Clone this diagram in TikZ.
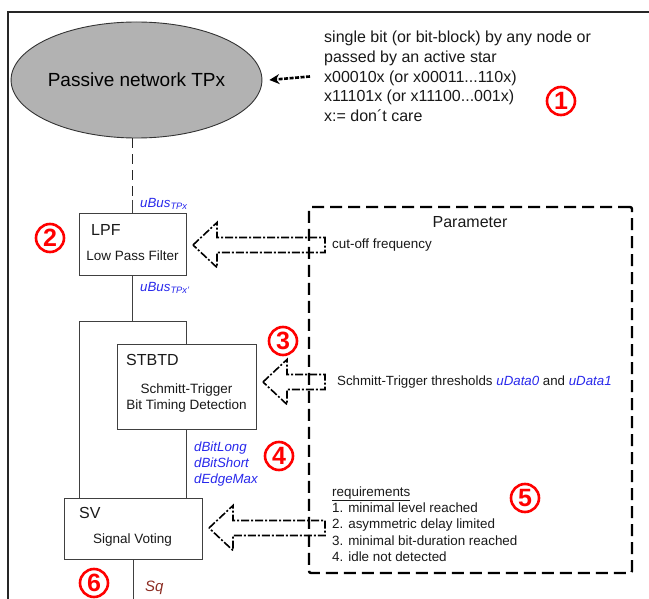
\documentclass[tikz,border=0pt]{standalone}
\usepackage{fontspec}
\setmainfont{Liberation Sans}
\usetikzlibrary{arrows.meta,shapes.geometric}
\definecolor{lblue}{RGB}{40,40,235}
\definecolor{sqc}{RGB}{140,45,35}
\definecolor{ellg}{RGB}{178,178,178}
\newcommand{\fsz}[2]{\fontsize{#1}{#2}\selectfont}
\tikzset{
  frame/.style={draw=black!85, line width=2pt},
  blockbox/.style={draw=black!75, line width=1pt, inner sep=0pt},
  conn/.style={draw=black!75, line width=1pt},
  dashconn/.style={draw=black!85, line width=1.4pt, dash pattern=on 10pt off 6pt},
  parambox/.style={draw=black, line width=2.4pt, dash pattern=on 12pt off 6pt, rounded corners=2pt, inner sep=0pt},
  hollow/.style={draw=black, line width=1.6pt, dash pattern=on 8pt off 2pt on 2pt off 2pt},
  toparrow/.style={draw=black, line width=2.6pt, dash pattern=on 4pt off 1.5pt, -{Stealth[length=10pt,width=10pt]}},
  num/.style={circle, draw=red, text=red, line width=2.6pt, minimum size=28pt, inner sep=0pt, font=\fsz{25}{25}\bfseries},
  lbl/.style={inner sep=0pt, text=black!90},
  bluelbl/.style={inner sep=0pt, text=lblue, font=\fsz{13.3}{16}\itshape},
  pics/harrow/.style={code={
    \draw[hollow] (0,0) -- (24,-22.5) -- (24,-7.5) -- (#1,-7.5) -- (#1,7.5) -- (24,7.5) -- (24,22.5) -- cycle;
  }}
}
\begin{document}
\begin{tikzpicture}[x=1pt,y=-1pt]
\useasboundingbox (0,0) rectangle (649,599);
% outer frame (clipped)
\draw[frame] (8,599) -- (8,12) -- (649,12);

% passive network
\node[ellipse, draw=black!80, line width=0.9pt, fill=ellg, minimum width=223pt, minimum height=116pt, inner sep=0pt, font=\fsz{19}{22}] (net) at (136.5,80) {Passive network TPx};

% description text
\node[lbl, anchor=north west, align=left, font=\fsz{16}{19.7}] (desc) at (324,31)
  {single bit (or bit-block) by any node or\\passed by an active star\\x00010x (or x00011...110x)\\x11101x (or x11100...001x)\\x:= don´t care};
\draw[toparrow] ([xshift=-14pt]desc.west) -- ([xshift=7pt]net.east);

% blocks
\node[blockbox, minimum width=107pt, minimum height=62pt] (lpf) at (132.5,245) {};
\node[lbl, anchor=west, font=\fsz{16}{19}] (lpft) at (91,230) {LPF};
\node[lbl, font=\fsz{13.5}{16}] (lpfs) at (132.5,256) {Low Pass Filter};

\node[blockbox, minimum width=139pt, minimum height=84pt] (stbtd) at (186.5,387) {};
\node[lbl, anchor=west, font=\fsz{16}{19}] (stbtdt) at (126,360) {STBTD};
\node[lbl, align=center, font=\fsz{13.5}{16.5}] (stbtds) at (186.5,398) {Schmitt-Trigger\\Bit Timing Detection};

\node[blockbox, minimum width=138pt, minimum height=61pt] (sv) at (133,528.5) {};
\node[lbl, anchor=west, font=\fsz{16}{19}] (svt) at (79,513) {SV};
\node[lbl, font=\fsz{13.5}{16}] (svs) at (132.5,540) {Signal Voting};

% connectors
\coordinate (d1) at (132.5,200);
\coordinate (bl) at (79,322);
\coordinate (br) at (186.5,322);
\coordinate (sqend) at (133,599);
\draw[dashconn] (net.south -| lpf.north) -- (d1);
\draw[conn] (d1) -- (lpf.north);
\draw[conn] (lpf.south) -- (lpf.south |- bl);
\draw[conn] (sv.north -| bl) -- (bl) -- (br) -- (stbtd.north);
\draw[conn] (stbtd.south) -- (stbtd.south |- sv.north);
\draw[conn] (sv.south) -- (sqend);

% signal labels
\node[bluelbl, anchor=west] (ub1) at (140,204) {uBus\textsubscript{TPx}};
\node[bluelbl, anchor=west] (ub2) at (140,288) {uBus\textsubscript{TPx'}};
\node[bluelbl, anchor=north west, align=left] (dbit) at (194,441.5) {dBitLong\\dBitShort\\dEdgeMax};
\node[lbl, anchor=west, text=sqc, font=\fsz{15}{18}\itshape] (sq) at (145,588) {Sq};

% parameter box
\node[parambox, minimum width=323pt, minimum height=366pt] (param) at (470.5,390) {};
\node[lbl, font=\fsz{16}{19}] (ptitle) at (470,222) {Parameter};
\node[lbl, anchor=west, font=\fsz{13.4}{16}] (cof) at (332,245) {cut-off frequency};
\node[lbl, anchor=west, font=\fsz{13.3}{16}] (thr) at (337,382) {Schmitt-Trigger thresholds \textcolor{lblue}{\itshape uData0} and \textcolor{lblue}{\itshape uData1}};
\node[lbl, anchor=north west, align=left, font=\fsz{13.4}{16.2}] (req) at (332,486.5)
  {\underline{requirements}\\1. minimal level reached\\2. asymmetric delay limited\\3. minimal bit-duration reached\\4. idle not detected};

% hollow arrows
\pic at (193,245) {harrow=132};
\pic at (263,382) {harrow=62};
\pic at (209,528) {harrow=116};

% circled numbers
\node[num] (n1) at (561,101) {1};
\node[num] (n2) at (50,238) {2};
\node[num] (n3) at (283,341) {3};
\node[num] (n4) at (279,456) {4};
\node[num] (n5) at (525,498) {5};
\node[num] (n6) at (94,583) {6};
\end{tikzpicture}
\end{document}
